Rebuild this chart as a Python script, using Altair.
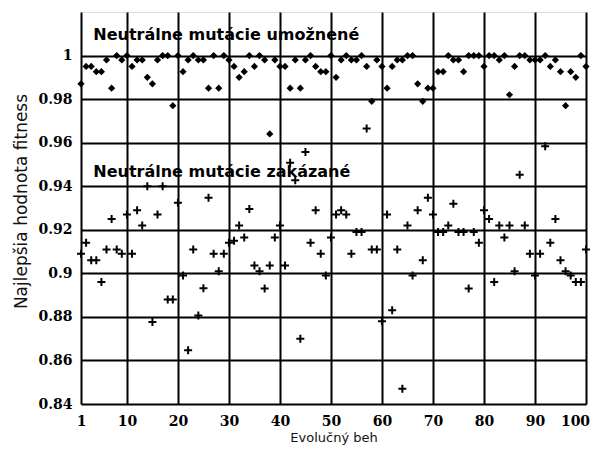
import altair as alt
import pandas as pd

runs = list(range(1, 101))

umoznene = [
    0.987, 0.995, 0.995, 0.9926, 0.9926, 0.998, 0.985, 1.0, 0.998, 1.0,
    0.995, 0.998, 0.998, 0.990, 0.987, 0.998, 1.0, 1.0, 0.977, 1.0,
    0.9926, 0.998, 1.0, 0.998, 0.998, 0.985, 1.0, 0.985, 1.0, 0.998,
    0.995, 0.990, 0.9926, 1.0, 0.995, 1.0, 0.998, 0.964, 0.998, 0.995,
    0.995, 0.985, 0.998, 0.985, 0.998, 1.0, 0.995, 0.9926, 0.9926, 1.0,
    0.990, 0.998, 1.0, 0.998, 0.998, 1.0, 0.995, 0.979, 0.998, 0.995,
    0.985, 0.995, 0.998, 0.998, 1.0, 1.0, 0.987, 0.979, 0.985, 0.985,
    0.9926, 0.9926, 1.0, 0.998, 0.998, 0.9926, 1.0, 1.0, 1.0, 0.995,
    1.0, 1.0, 0.998, 1.0, 0.982, 0.995, 1.0, 1.0, 0.998, 0.998,
    0.998, 1.0, 0.995, 0.998, 0.9926, 0.977, 0.9926, 0.990, 1.0, 0.995,
]

zakazane = [
    0.909, 0.914, 0.906, 0.906, 0.896, 0.911, 0.925, 0.911, 0.909, 0.927,
    0.909, 0.929, 0.922, 0.940, 0.8776, 0.927, 0.940, 0.888, 0.888, 0.9324,
    0.899, 0.8647, 0.911, 0.8806, 0.8932, 0.9347, 0.909, 0.901, 0.909, 0.914,
    0.915, 0.922, 0.9165, 0.9295, 0.9036, 0.901, 0.893, 0.9036, 0.9165, 0.922,
    0.9036, 0.9508, 0.9427, 0.870, 0.9557, 0.914, 0.929, 0.909, 0.899, 0.9165,
    0.927, 0.929, 0.927, 0.909, 0.919, 0.919, 0.9665, 0.911, 0.911, 0.878,
    0.927, 0.883, 0.911, 0.847, 0.922, 0.899, 0.929, 0.906, 0.9347, 0.927,
    0.919, 0.919, 0.922, 0.932, 0.919, 0.919, 0.893, 0.919, 0.914, 0.929,
    0.925, 0.896, 0.922, 0.9165, 0.922, 0.901, 0.9453, 0.922, 0.909, 0.899,
    0.909, 0.9584, 0.914, 0.925, 0.906, 0.901, 0.899, 0.896, 0.896, 0.911,
]

x_ticks = [1, 10, 20, 30, 40, 50, 60, 70, 80, 90, 100]
y_ticks = [0.84, 0.86, 0.88, 0.90, 0.92, 0.94, 0.96, 0.98, 1.0]

labels = ["Neutrálne mutácie umožnené", "Neutrálne mutácie zakázané"]
label_x = [3.4, 3.4]
label_y = [1.0072, 0.9441]

df_u = pd.DataFrame({"beh": runs, "fitness": umoznene})
df_z = pd.DataFrame({"beh": runs, "fitness": zakazane})
df_t = pd.DataFrame({"beh": label_x, "fitness": label_y, "text": labels})

x_enc = alt.X(
    "beh:Q",
    scale=alt.Scale(domain=[1, 100], nice=False, zero=False),
    axis=alt.Axis(
        values=x_ticks,
        title="Evolučný beh",
        titleFont="DejaVu Sans",
        titleFontSize=13,
        titleFontWeight="normal",
        titleColor="#111",
        titleY=37,
        titleBaseline="alphabetic",
        labelFont="DejaVu Serif",
        labelFontWeight="bold",
        labelFontSize=14,
        labelColor="black",
        labelPadding=10,
        labelBaseline="top",
        labelOffset={"condition": {"test": "datum.value == 100", "value": -11}, "value": 0},
        tickSize=0,
        domain=False,
        grid=True,
        gridColor="black",
        gridWidth=2,
        gridOpacity=1,
        labelFlush=False,
        labelOverlap=False,
    ),
)

y_enc = alt.Y(
    "fitness:Q",
    scale=alt.Scale(domain=[0.84, 1.02], nice=False, zero=False),
    axis=alt.Axis(
        values=y_ticks,
        labelExpr="format(datum.value, '.2~f')",
        title="Najlepšia hodnota fitness",
        titleFont="DejaVu Sans",
        titleFontSize=17,
        titleFontWeight="normal",
        titleColor="#111",
        titleAngle=270,
        titleAlign="center",
        titleBaseline="middle",
        titleX=-60,
        titleY=189,
        labelFont="DejaVu Serif",
        labelFontWeight="bold",
        labelFontSize=14,
        labelColor="black",
        labelPadding=9,
        tickSize=0,
        domain=False,
        grid=True,
        gridColor="black",
        gridWidth=2,
        gridOpacity=1,
        labelFlush=False,
        labelOverlap=False,
    ),
)

diamonds = alt.Chart(df_u).mark_point(
    shape="diamond", filled=True, size=52, color="black", opacity=1
).encode(x=x_enc, y=y_enc)

pluses = alt.Chart(df_z).mark_point(
    shape="M-1,0H1M0,-1V1", filled=False, size=64, strokeWidth=2,
    color="black", opacity=1
).encode(x="beh:Q", y="fitness:Q")

texts = alt.Chart(df_t).mark_text(
    align="left", baseline="alphabetic", font="DejaVu Sans", fontSize=16,
    fontWeight="bold", color="black"
).encode(x="beh:Q", y="fitness:Q", text="text:N")

chart = alt.layer(diamonds, pluses, texts).properties(
    width=505,
    height=392,
    autosize=alt.AutoSizeParams(type="none"),
    padding={"left": 73, "top": 4, "right": 4, "bottom": 41},
).configure_view(
    stroke="black", strokeWidth=2.5, fill="white"
).configure(background="white")

chart.save("out.html", embed_options={"renderer": "svg", "actions": False})
